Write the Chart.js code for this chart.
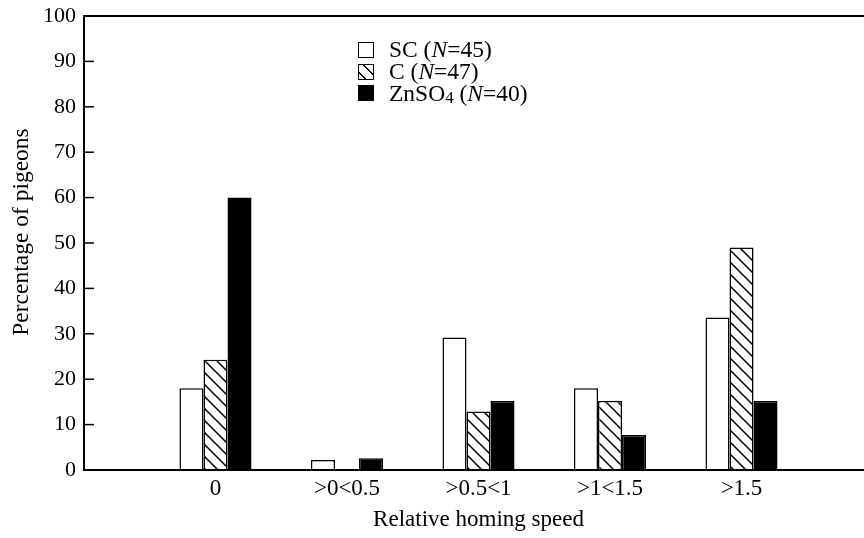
<!DOCTYPE html>
<html><head><meta charset="utf-8">
<script src="https://cdn.jsdelivr.net/npm/chart.js@4"></script>
<style>
html,body{margin:0;padding:0;overflow:hidden;background:#fff;}
#wrap{position:relative;width:880px;height:538px;}
#legend{position:absolute;left:358px;top:39px;font-family:"Liberation Serif",serif;font-size:23.5px;color:#000;line-height:1;}
.row{display:flex;align-items:center;height:21.75px;}
.box{width:14px;height:14px;border:1.5px solid #000;margin-right:15px;box-sizing:content-box;flex:none;}
.b0{background:#fff;}
.b1{background:repeating-linear-gradient(45deg,#fff 0 3.6px,#000 3.6px 5px,#fff 5px 8.5px);}
.b2{background:#000;}
sub{font-size:0.72em;vertical-align:-0.12em;line-height:0;}
</style></head>
<body>
<div id="wrap">
<canvas id="c" width="880" height="538"></canvas>
<div id="legend">
 <div class="row"><span class="box b0"></span><span>SC (<i>N</i>=45)</span></div>
 <div class="row"><span class="box b1"></span><span>C (<i>N</i>=47)</span></div>
 <div class="row"><span class="box b2"></span><span>ZnSO<sub>4</sub> (<i>N</i>=40)</span></div>
</div>
</div>
<script>
const categories = ['0', '>0<0.5', '>0.5<1', '>1<1.5', '>1.5'];
const scValues   = [18, 2.2, 29.2, 18, 33.6];
const cValues    = [24.3, 0, 12.9, 15.2, 49];
const znValues   = [60, 2.6, 15.2, 7.7, 15.2];
const yTicks     = [0, 10, 20, 30, 40, 50, 60, 70, 80, 90, 100];

const FONT = 'Liberation Serif';
const labels = [''].concat(categories, ['']);
const pad = arr => [null].concat(arr, [null]);

function hatch(){
  const s = 12, cv = document.createElement('canvas');
  cv.width = cv.height = s;
  const x = cv.getContext('2d');
  x.fillStyle = '#fff'; x.fillRect(0,0,s,s);
  x.strokeStyle = '#000'; x.lineWidth = 1.5;
  x.beginPath();
  x.moveTo(-2,-2); x.lineTo(s+2,s+2);
  x.moveTo(-2,s-2); x.lineTo(2,s+2);
  x.moveTo(s-2,-2); x.lineTo(s+2,2);
  x.stroke();
  return x.createPattern(cv,'repeat');
}

const inwardTicks = {
  id:'inwardTicks',
  afterDraw(ch){
    const y = ch.scales.y, a = ch.chartArea, ctx = ch.ctx;
    ctx.save(); ctx.strokeStyle = '#000'; ctx.lineWidth = 1.5;
    y.ticks.forEach(t => {
      const p = y.getPixelForValue(t.value);
      ctx.beginPath(); ctx.moveTo(a.left, p); ctx.lineTo(a.left + 10, p); ctx.stroke();
    });
    ctx.restore();
  }
};
const yTitle = {
  id:'yTitle',
  afterDraw(ch){
    const ctx = ch.ctx;
    ctx.save();
    ctx.translate(22, 232); ctx.rotate(-Math.PI/2);
    ctx.font = '23.5px "' + FONT + '"'; ctx.fillStyle = '#000';
    ctx.textAlign = 'center'; ctx.textBaseline = 'middle';
    ctx.fillText('Percentage of pigeons', 0, 0);
    ctx.restore();
  }
};

const common = {borderColor:'#000', borderWidth:1.5, categoryPercentage:0.548, barPercentage:1};
new Chart(document.getElementById('c'), {
  type:'bar',
  data:{
    labels: labels,
    datasets:[
      Object.assign({label:'SC (N=45)', data:pad(scValues), backgroundColor:'#fff'}, common),
      Object.assign({label:'C (N=47)', data:pad(cValues), backgroundColor:hatch()}, common),
      Object.assign({label:'ZnSO4 (N=40)', data:pad(znValues), backgroundColor:'#000'}, common)
    ]
  },
  options:{
    responsive:false, animation:false, devicePixelRatio:1,
    layout:{padding:{left:0, right:7, top:16, bottom:0}},
    plugins:{legend:{display:false}, tooltip:{enabled:false}},
    scales:{
      x:{
        type:'category', offset:false, z:1,
        grid:{display:false, drawTicks:false},
        border:{display:true, color:'#000', width:2},
        ticks:{color:'#000', font:{family:FONT, size:23}, padding:5, maxRotation:0, autoSkip:false},
        title:{display:true, text:'Relative homing speed', color:'#000', font:{family:FONT, size:23}, padding:{top:0, bottom:4}},
        afterFit(s){ s.height = 68; s.paddingLeft = 0; s.paddingRight = 0; }
      },
      y:{
        min:0, max:100, z:1,
        afterBuildTicks(s){ s.ticks = yTicks.map(v => ({value:v})); },
        ticks:{color:'#000', font:{family:FONT, size:22}, padding:8},
        grid:{drawTicks:false, color:ctx => (ctx.tick && ctx.tick.value === 100) ? '#000' : 'rgba(0,0,0,0)', lineWidth:2},
        border:{display:true, color:'#000', width:2},
        afterFit(s){ s.width = 84; s.paddingTop = 0; s.paddingBottom = 0; }
      }
    }
  },
  plugins:[inwardTicks, yTitle]
});
</script>
</body></html>
